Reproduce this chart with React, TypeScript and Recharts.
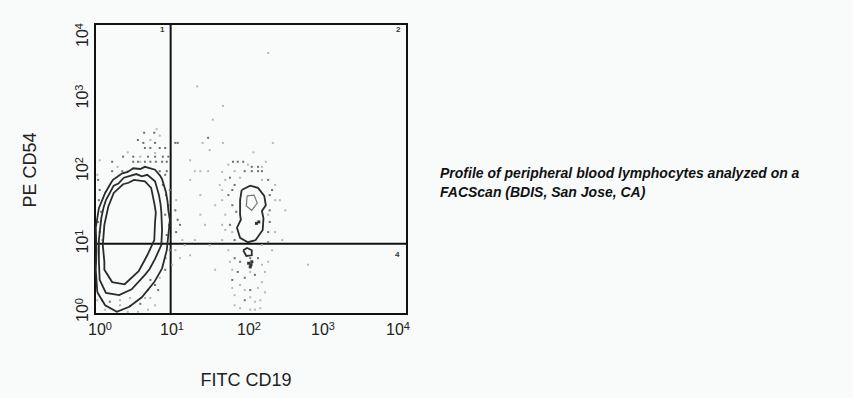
import React from "react"
import { ComposedChart, Scatter, XAxis, YAxis, ReferenceLine, ReferenceArea } from "recharts"

// all positions in decades (log10 of fluorescence), axes run 10^0 .. 10^4
const decades = [0, 1, 2, 3, 4]
const quadX = 0.97
const quadY = 0.97

// contours of the lymphocyte (CD19-) population
const contourOuter = [
  { x: 0.03, y: 0.3 }, { x: 0.01, y: 0.61 }, { x: 0.02, y: 0.88 }, { x: 0.01, y: 1.19 },
  { x: 0.05, y: 1.46 }, { x: 0.13, y: 1.67 }, { x: 0.2, y: 1.8 }, { x: 0.23, y: 1.85 },
  { x: 0.35, y: 1.94 }, { x: 0.42, y: 1.96 }, { x: 0.49, y: 2.01 }, { x: 0.58, y: 2.0 },
  { x: 0.64, y: 2.03 }, { x: 0.77, y: 1.99 }, { x: 0.84, y: 1.9 }, { x: 0.86, y: 1.86 },
  { x: 0.91, y: 1.68 }, { x: 0.93, y: 1.55 }, { x: 0.94, y: 1.43 }, { x: 0.96, y: 1.3 },
  { x: 0.95, y: 1.19 }, { x: 0.92, y: 0.88 }, { x: 0.86, y: 0.63 }, { x: 0.76, y: 0.44 },
  { x: 0.6, y: 0.23 }, { x: 0.44, y: 0.1 }, { x: 0.28, y: 0.03 }, { x: 0.13, y: 0.12 },
  { x: 0.03, y: 0.3 },
]
const contourMid = [
  { x: 0.06, y: 0.47 }, { x: 0.05, y: 0.72 }, { x: 0.05, y: 1.02 }, { x: 0.08, y: 1.32 },
  { x: 0.11, y: 1.47 }, { x: 0.14, y: 1.57 }, { x: 0.24, y: 1.77 }, { x: 0.3, y: 1.8 },
  { x: 0.37, y: 1.88 }, { x: 0.53, y: 1.93 }, { x: 0.6, y: 1.9 }, { x: 0.67, y: 1.92 },
  { x: 0.77, y: 1.83 }, { x: 0.82, y: 1.64 }, { x: 0.84, y: 1.52 }, { x: 0.85, y: 1.41 },
  { x: 0.86, y: 1.16 }, { x: 0.85, y: 0.95 }, { x: 0.77, y: 0.76 }, { x: 0.7, y: 0.62 },
  { x: 0.64, y: 0.54 }, { x: 0.47, y: 0.34 }, { x: 0.31, y: 0.26 }, { x: 0.14, y: 0.29 },
  { x: 0.06, y: 0.47 },
]
const contourInner = [
  { x: 0.12, y: 0.72 }, { x: 0.1, y: 0.95 }, { x: 0.12, y: 1.23 }, { x: 0.17, y: 1.48 },
  { x: 0.24, y: 1.67 }, { x: 0.36, y: 1.79 }, { x: 0.43, y: 1.81 }, { x: 0.5, y: 1.85 },
  { x: 0.64, y: 1.83 }, { x: 0.72, y: 1.74 }, { x: 0.76, y: 1.53 }, { x: 0.78, y: 1.4 },
  { x: 0.77, y: 1.27 }, { x: 0.76, y: 1.02 }, { x: 0.67, y: 0.81 }, { x: 0.56, y: 0.59 },
  { x: 0.38, y: 0.41 }, { x: 0.22, y: 0.44 }, { x: 0.12, y: 0.61 }, { x: 0.12, y: 0.72 },
]

// CD19+ B cell population
const contourB = [
  { x: 1.88, y: 1.71 }, { x: 1.99, y: 1.77 }, { x: 2.09, y: 1.74 }, { x: 2.17, y: 1.63 },
  { x: 2.19, y: 1.5 }, { x: 2.14, y: 1.42 }, { x: 2.16, y: 1.32 }, { x: 2.15, y: 1.16 },
  { x: 2.06, y: 1.02 }, { x: 1.96, y: 0.99 }, { x: 1.86, y: 1.05 }, { x: 1.82, y: 1.19 },
  { x: 1.87, y: 1.3 }, { x: 1.86, y: 1.37 }, { x: 1.86, y: 1.57 }, { x: 1.88, y: 1.71 },
]
const contourBInner = [
  { x: 1.95, y: 1.63 }, { x: 2.04, y: 1.64 }, { x: 2.08, y: 1.53 }, { x: 2.01, y: 1.43 },
  { x: 1.94, y: 1.49 }, { x: 1.95, y: 1.63 },
]
const contourBLow = [
  { x: 1.9, y: 0.88 }, { x: 1.95, y: 0.91 }, { x: 2.01, y: 0.88 }, { x: 2.01, y: 0.81 },
  { x: 1.94, y: 0.8 }, { x: 1.9, y: 0.88 },
]
const blob = [
  { x: 1.97, y: 0.7 }, { x: 2.0, y: 0.68 }, { x: 1.99, y: 0.65 }, { x: 2.01, y: 0.72 },
  { x: 2.1, y: 1.27 }, { x: 2.07, y: 1.25 },
]

const darkDots = [
  { x: 0.63, y: 2.5 }, { x: 0.76, y: 2.5 }, { x: 0.55, y: 2.4 }, { x: 0.62, y: 2.36 },
  { x: 0.77, y: 2.36 }, { x: 1.03, y: 2.36 }, { x: 1.06, y: 2.36 }, { x: 1.45, y: 2.43 },
  { x: 0.64, y: 2.29 }, { x: 0.71, y: 2.29 }, { x: 0.83, y: 2.29 }, { x: 0.9, y: 2.29 },
  { x: 0.36, y: 2.17 }, { x: 0.49, y: 2.17 }, { x: 0.68, y: 2.17 }, { x: 0.77, y: 2.17 },
  { x: 0.87, y: 2.17 }, { x: 0.94, y: 2.17 }, { x: 0.22, y: 2.1 }, { x: 0.49, y: 2.1 },
  { x: 0.55, y: 2.1 }, { x: 0.64, y: 2.1 }, { x: 0.71, y: 2.1 }, { x: 0.78, y: 2.1 },
  { x: 0.86, y: 2.1 }, { x: 0.92, y: 2.1 }, { x: 0.22, y: 1.97 }, { x: 0.35, y: 1.97 },
  { x: 0.83, y: 1.97 }, { x: 0.92, y: 1.97 }, { x: 0.04, y: 1.85 }, { x: 0.06, y: 1.71 },
  { x: 0.05, y: 1.57 }, { x: 0.08, y: 1.41 }, { x: 0.04, y: 1.27 }, { x: 0.06, y: 1.13 },
  { x: 0.87, y: 1.78 }, { x: 0.91, y: 1.64 }, { x: 0.94, y: 1.5 }, { x: 0.9, y: 1.37 },
  { x: 0.95, y: 1.23 }, { x: 0.92, y: 1.09 }, { x: 0.96, y: 0.88 }, { x: 1.03, y: 1.43 },
  { x: 1.06, y: 1.3 }, { x: 1.04, y: 1.13 }, { x: 0.71, y: 0.47 }, { x: 0.77, y: 0.4 },
  { x: 0.81, y: 0.33 }, { x: 0.68, y: 0.33 }, { x: 0.09, y: 0.19 }, { x: 0.19, y: 0.17 },
  { x: 0.45, y: 0.11 }, { x: 0.58, y: 0.14 }, { x: 1.77, y: 2.1 }, { x: 1.83, y: 2.1 },
  { x: 1.9, y: 2.1 }, { x: 1.92, y: 1.97 }, { x: 2.01, y: 1.97 }, { x: 2.09, y: 1.97 },
  { x: 2.14, y: 1.97 }, { x: 2.01, y: 2.03 }, { x: 2.09, y: 2.03 }, { x: 1.73, y: 1.88 },
  { x: 1.79, y: 1.78 }, { x: 2.22, y: 1.85 }, { x: 2.27, y: 1.71 }, { x: 1.71, y: 1.64 },
  { x: 1.76, y: 1.5 }, { x: 2.24, y: 1.43 }, { x: 2.24, y: 1.27 }, { x: 1.73, y: 1.23 },
  { x: 1.79, y: 1.02 }, { x: 2.22, y: 0.99 }, { x: 1.79, y: 0.77 }, { x: 1.86, y: 0.72 },
  { x: 2.09, y: 0.77 }, { x: 1.83, y: 0.58 }, { x: 1.92, y: 0.5 }, { x: 2.05, y: 0.54 },
  { x: 1.99, y: 0.33 }, { x: 1.92, y: 0.19 }, { x: 0.9, y: 1.92 }, { x: 0.96, y: 1.71 },
  { x: 1.09, y: 1.23 }, { x: 0.9, y: 0.61 }, { x: 1.76, y: 1.71 }, { x: 2.24, y: 1.64 },
  { x: 1.81, y: 1.41 }, { x: 2.22, y: 1.13 }, { x: 1.99, y: 0.77 }, { x: 1.76, y: 0.47 },
]
const lightDots = [
  { x: 0.79, y: 2.55 }, { x: 1.38, y: 2.36 }, { x: 1.51, y: 2.68 }, { x: 1.64, y: 2.87 },
  { x: 1.64, y: 2.36 }, { x: 0.77, y: 2.22 }, { x: 0.58, y: 2.17 }, { x: 0.42, y: 1.97 },
  { x: 0.29, y: 2.03 }, { x: 0.09, y: 1.02 }, { x: 0.91, y: 0.77 }, { x: 1.12, y: 1.02 },
  { x: 1.03, y: 0.88 }, { x: 1.09, y: 0.77 }, { x: 1.22, y: 1.85 }, { x: 1.35, y: 1.64 },
  { x: 1.54, y: 1.5 }, { x: 1.41, y: 1.23 }, { x: 1.28, y: 1.02 }, { x: 1.6, y: 1.78 },
  { x: 1.67, y: 1.16 }, { x: 0.32, y: 0.19 }, { x: 0.64, y: 0.22 }, { x: 0.13, y: 0.06 },
  { x: 0.42, y: 0.03 }, { x: 0.55, y: 0.03 }, { x: 1.79, y: 1.97 }, { x: 2.14, y: 2.03 },
  { x: 2.03, y: 2.23 }, { x: 1.28, y: 1.97 }, { x: 1.35, y: 1.97 }, { x: 1.45, y: 1.97 },
  { x: 1.67, y: 1.85 }, { x: 2.31, y: 1.57 }, { x: 1.67, y: 1.37 }, { x: 2.31, y: 1.13 },
  { x: 2.27, y: 0.88 }, { x: 1.71, y: 0.88 }, { x: 2.14, y: 0.68 }, { x: 2.18, y: 0.58 },
  { x: 1.86, y: 0.4 }, { x: 2.09, y: 0.36 }, { x: 1.79, y: 0.26 }, { x: 2.05, y: 0.17 },
  { x: 1.86, y: 0.08 }, { x: 1.99, y: 0.06 }, { x: 2.12, y: 0.08 }, { x: 2.73, y: 0.68 },
  { x: 2.44, y: 1.43 }, { x: 2.4, y: 1.02 }, { x: 1.71, y: 2.06 }, { x: 1.96, y: 2.06 },
  { x: 2.19, y: 2.1 }, { x: 1.63, y: 1.96 }, { x: 1.86, y: 1.88 }, { x: 2.14, y: 1.85 },
  { x: 2.31, y: 1.78 }, { x: 1.63, y: 1.71 }, { x: 1.63, y: 1.57 }, { x: 2.37, y: 1.57 },
  { x: 2.22, y: 1.37 }, { x: 1.63, y: 1.23 }, { x: 1.76, y: 1.13 }, { x: 1.63, y: 1.02 },
  { x: 2.14, y: 0.95 }, { x: 1.73, y: 0.72 }, { x: 2.22, y: 0.72 }, { x: 1.76, y: 0.61 },
  { x: 1.99, y: 0.58 }, { x: 2.14, y: 0.44 }, { x: 1.76, y: 0.36 }, { x: 1.92, y: 0.33 },
  { x: 2.18, y: 0.3 }, { x: 1.99, y: 0.23 }, { x: 2.12, y: 0.19 }, { x: 1.79, y: 0.12 },
  { x: 2.05, y: 0.06 }, { x: 0.06, y: 2.12 }, { x: 0.42, y: 2.23 }, { x: 0.71, y: 2.4 },
  { x: 0.83, y: 2.46 }, { x: 0.03, y: 1.92 }, { x: 0.58, y: 2.1 }, { x: 1.04, y: 1.57 },
  { x: 1.15, y: 0.95 }, { x: 0.99, y: 0.68 }, { x: 0.83, y: 0.5 }, { x: 0.71, y: 0.22 },
  { x: 0.77, y: 0.12 }, { x: 0.68, y: 0.06 }, { x: 0.03, y: 0.19 }, { x: 0.45, y: 0.22 },
  { x: 0.32, y: 0.12 }, { x: 1.22, y: 2.12 }, { x: 1.47, y: 2.26 }, { x: 1.35, y: 1.37 },
  { x: 1.47, y: 0.95 }, { x: 1.22, y: 0.81 }, { x: 1.54, y: 0.61 }, { x: 2.22, y: 3.6 },
  { x: 1.31, y: 3.14 }, { x: 2.28, y: 2.36 },
]

const xLabelShift = [5, -1, -2, -6, -9]
const yLabelShift = [-4, 0, 0, 0, 11]

const FONT = "'Liberation Sans', Arial, sans-serif"

const XTick = (props: any) => {
  const { x, y, payload } = props
  const i = decades.indexOf(payload.value)
  return (
    <text x={x + xLabelShift[i]} y={y + 19} textAnchor="middle" fill="#222" fontSize={16} fontFamily={FONT}>
      10<tspan fontSize={11} dy={-5}>{payload.value}</tspan>
    </text>
  )
}

const YTick = (props: any) => {
  const { y, payload } = props
  const i = decades.indexOf(payload.value)
  const cy = y + yLabelShift[i]
  return (
    <text x={88} y={cy} transform={`rotate(-90, 88, ${cy})`} textAnchor="middle" fill="#222" fontSize={16} fontFamily={FONT}>
      10<tspan fontSize={11} dy={-5}>{payload.value}</tspan>
    </text>
  )
}

const hidden = () => <g />
const dot = (fill: string, size: number) => (p: any) => (
  <rect x={p.cx - size / 2} y={p.cy - size / 2} width={size} height={size} fill={fill} />
)

const contourLine = { stroke: "#2b2b2b", strokeWidth: 1.8 }

export default function App() {
  return (
    <div style={{ position: "absolute", left: 0, top: 0, width: 853, height: 398, background: "#f9fbfb", fontFamily: FONT }}>
      <ComposedChart width={853} height={398} margin={{ top: 24, right: 446, bottom: 54, left: 65 }}>
        <XAxis type="number" dataKey="x" domain={[0, 4]} ticks={decades} height={30}
          axisLine={false} tickLine={false} tickSize={0} tick={<XTick />} />
        <YAxis type="number" dataKey="y" domain={[0, 4]} ticks={decades} width={30}
          axisLine={false} tickLine={false} tickSize={0} tick={<YTick />} />
        <Scatter data={lightDots} shape={dot("#b4b8b8", 2)} isAnimationActive={false} />
        <Scatter data={darkDots} shape={dot("#6d7070", 2)} isAnimationActive={false} />
        <Scatter data={contourOuter} line={contourLine} shape={hidden} isAnimationActive={false} />
        <Scatter data={contourMid} line={contourLine} shape={hidden} isAnimationActive={false} />
        <Scatter data={contourInner} line={contourLine} shape={hidden} isAnimationActive={false} />
        <Scatter data={contourB} line={contourLine} shape={hidden} isAnimationActive={false} />
        <Scatter data={contourBInner} line={{ stroke: "#777", strokeWidth: 1.2 }} shape={hidden} isAnimationActive={false} />
        <Scatter data={contourBLow} line={contourLine} shape={hidden} isAnimationActive={false} />
        <Scatter data={blob} shape={dot("#333", 3)} isAnimationActive={false} />
        <ReferenceLine x={quadX} stroke="#111" strokeWidth={2} />
        <ReferenceLine y={quadY} stroke="#111" strokeWidth={2} />
        <ReferenceArea x1={0} x2={4} y1={0} y2={4} fill="none" stroke="#111" strokeWidth={2} />
      </ComposedChart>
      <div style={{ position: "absolute", left: 160, top: 25, fontSize: 8, fontWeight: "bold", color: "#333" }}>1</div>
      <div style={{ position: "absolute", left: 396, top: 25, fontSize: 8, fontWeight: "bold", color: "#333" }}>2</div>
      <div style={{ position: "absolute", left: 395, top: 250, fontSize: 8, fontWeight: "bold", color: "#333" }}>4</div>
      <div style={{ position: "absolute", left: 30, top: 170, transform: "translate(-50%, -50%) rotate(-90deg)", fontSize: 18, color: "#222", whiteSpace: "nowrap" }}>
        PE CD54
      </div>
      <div style={{ position: "absolute", left: 246, top: 370, transform: "translateX(-50%)", fontSize: 18, color: "#222", whiteSpace: "nowrap" }}>
        FITC CD19
      </div>
      <div style={{ position: "absolute", left: 440, top: 164, fontSize: 14, lineHeight: "19px", fontWeight: "bold", fontStyle: "italic", color: "#111" }}>
        Profile of peripheral blood lymphocytes analyzed on a<br />FACScan (BDIS, San Jose, CA)
      </div>
    </div>
  )
}
